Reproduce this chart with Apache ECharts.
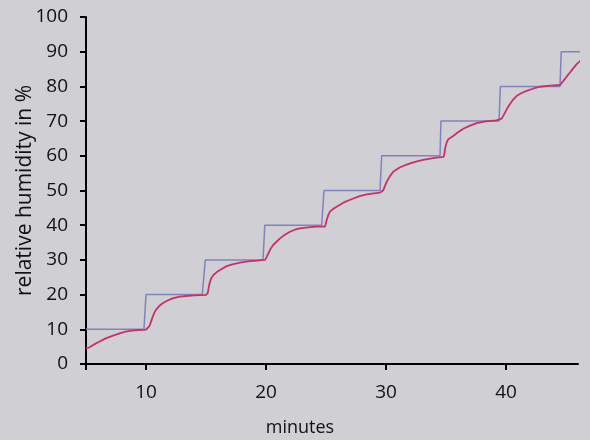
<!DOCTYPE html>
<html>
<head>
<meta charset="utf-8">
<script src="https://cdn.jsdelivr.net/npm/echarts@6/dist/echarts.min.js"></script>
<style>
html,body{margin:0;padding:0;background:#cfcfd4;}
#c{width:590px;height:440px;}
</style>
</head>
<body>
<div id="c"></div>
<script>
// Set-point humidity (step profile) [minutes, %]
const setpoint = [
  [5,10],[9.83,10],[10.0,20],[14.69,20],[14.94,30],[19.75,30],[19.9,40],
  [24.64,40],[24.83,50],[29.5,50],[29.64,60],[34.5,60],[34.58,70],
  [39.42,70],[39.53,80],[44.5,80],[44.6,90],[47,90]
];
// Measured humidity [minutes, %]
const measured = [
  [5.0,4.6],[5.3,4.8],[5.6,5.5],[6.1,6.4],[6.6,7.3],[7.2,8.1],[7.8,8.8],[8.3,9.3],
  [8.8,9.6],[9.4,9.8],[10.0,9.9],[10.15,10.2],[10.3,11],[10.45,12.5],[10.56,13.6],
  [10.7,14.8],[10.83,15.6],[11.1,16.7],[11.39,17.5],[11.8,18.3],[12.22,18.9],
  [12.8,19.4],[13.33,19.6],[14.0,19.8],[15.0,19.9],[15.15,20.5],[15.25,22.5],
  [15.33,23.7],[15.45,24.8],[15.61,25.6],[15.9,26.5],[16.17,27.1],[16.72,28.2],
  [17.2,28.7],[17.83,29.2],[18.5,29.6],[19.22,29.8],[19.92,30],[20.05,30.8],
  [20.2,31.9],[20.4,33.3],[20.6,34.3],[20.9,35.3],[21.17,36.2],[21.6,37.3],
  [22,38.1],[22.4,38.7],[22.83,39.1],[23.5,39.4],[24.22,39.6],[24.92,39.6],
  [25.06,41.5],[25.2,43],[25.33,43.9],[25.6,44.7],[25.89,45.3],[26.44,46.5],
  [27.28,47.7],[27.8,48.4],[28.39,48.9],[29.0,49.2],[29.5,49.4],[29.78,50.1],
  [29.9,51.2],[30.06,52.5],[30.3,54],[30.6,55.4],[31.17,56.7],[32,57.8],
  [32.5,58.3],[33.1,58.8],[33.7,59.2],[34.2,59.5],[34.8,59.7],[34.85,60.3],
  [34.95,62.5],[35.05,63.8],[35.19,64.8],[35.6,65.7],[36,66.8],[36.44,67.8],
  [37,68.7],[37.56,69.4],[38.3,69.9],[39.2,70.2],[39.64,70.7],[39.85,72],
  [40.06,73.4],[40.33,74.9],[40.6,76.2],[40.9,77.3],[41.3,78.1],[41.72,78.7],
  [42.3,79.4],[42.83,79.9],[43.7,80.2],[44.5,80.4],[44.65,80.9],[44.78,81.6],
  [45.05,82.8],[45.33,84],[45.6,85.2],[45.89,86.4],[46.3,87.7],[46.72,88.7],[47,89.2]
];
const xTickLabels = [10,20,30,40];
const xTicks = [5,10,20,30,40];
const xName = 'minutes';
const yName = 'relative humidity in %';

const font = '"Open Sans", "Noto Sans", sans-serif';
const chart = echarts.init(document.getElementById('c'), null, {renderer:'canvas'});
chart.setOption({
  backgroundColor:'#cfcfd4',
  animation:false,
  grid:{left:86,right:12,top:17,bottom:76,containLabel:false,outerBoundsMode:'none'},
  xAxis:{
    type:'value', min:5, max:46, interval:5,
    name:xName, nameLocation:'middle', nameGap:55, nameMoveOverlap:false,
    nameTextStyle:{fontFamily:font,fontSize:18,color:'#111',padding:[0,64,0,0]},
    axisLine:{show:true,lineStyle:{color:'#000',width:2}},
    axisTick:{show:true,length:6,lineStyle:{color:'#000',width:2},customValues:xTicks},
    axisLabel:{fontFamily:font,fontSize:19,color:'#111',margin:19,customValues:xTickLabels},
    splitLine:{show:false}
  },
  yAxis:{
    type:'value', min:0, max:100, interval:10,
    name:yName, nameLocation:'middle', nameGap:50, nameRotate:90, nameMoveOverlap:false,
    nameTextStyle:{fontFamily:font,fontSize:21,color:'#111'},
    axisLine:{show:true,lineStyle:{color:'#000',width:2}},
    axisTick:{show:true,length:6,lineStyle:{color:'#000',width:2}},
    axisLabel:{fontFamily:font,fontSize:19,color:'#111',margin:18},
    splitLine:{show:false}
  },
  series:[
    {type:'line',data:setpoint,showSymbol:false,clip:false,
     lineStyle:{color:'#7f83c0',width:1.5}},
    {type:'line',data:measured,showSymbol:false,clip:false,
     lineStyle:{color:'#c8306a',width:1.8}}
  ]
});
</script>
</body>
</html>
